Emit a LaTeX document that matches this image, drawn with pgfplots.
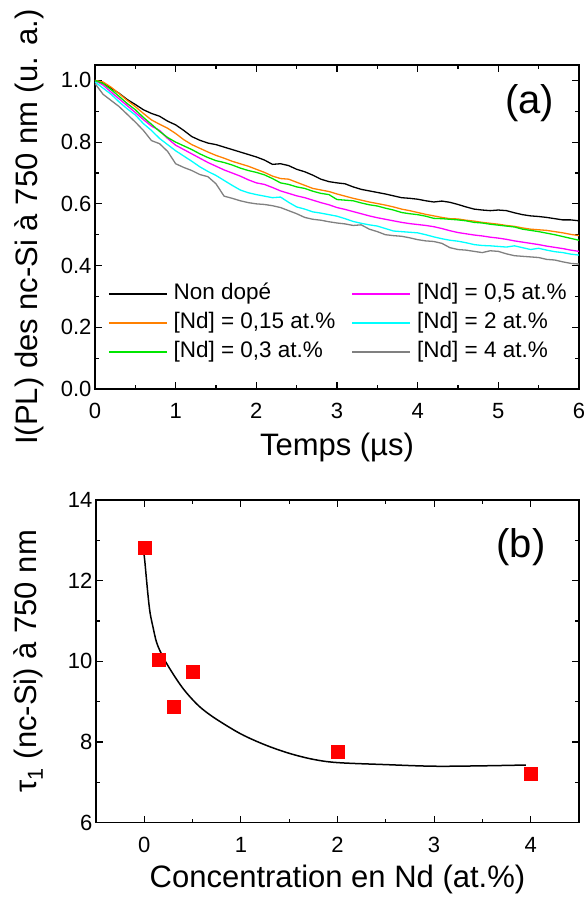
\documentclass[border=0pt]{standalone}
\usepackage{fontspec}
\setmainfont{Liberation Sans}
\usepackage{pgfplots}
\pgfplotsset{compat=1.18}
\definecolor{cBlack}{RGB}{0,0,0}
\definecolor{cOrange}{RGB}{255,128,0}
\definecolor{cGreen}{RGB}{0,230,0}
\definecolor{cMag}{RGB}{255,0,255}
\definecolor{cCyan}{RGB}{0,255,255}
\definecolor{cGray}{RGB}{128,128,128}
\pgfplotsset{
  myax/.style={
    scale only axis,
    axis line style={line width=1.3pt},
    every tick/.style={line width=1.1pt, black},
    major tick length=7pt, minor tick length=4pt,
    tick align=inside,
    tick label style={font=\fontsize{22}{26}\selectfont},
    xticklabel style={yshift=-11pt},
    /pgf/number format/assume math mode=true,
    label style={font=\fontsize{31}{35}\selectfont},
    minor x tick num=1, minor y tick num=1,
  }
}
\begin{document}
\begin{tikzpicture}[x=1pt,y=1pt]
\path[use as bounding box] (0,0) rectangle (584,898);
% ---------------- (a) ----------------
\begin{axis}[myax,
  at={(95pt,509pt)}, anchor=south west,
  width=484pt, height=324pt,
  xmin=0, xmax=6, ymin=0, ymax=1.05,
  xtick={0,1,2,3,4,5,6}, ytick={0,0.2,0.4,0.6,0.8,1.0},
  yticklabel style={/pgf/number format/.cd, fixed, fixed zerofill, precision=1},
  xlabel={Temps (µs)},
  ylabel={I(PL) des nc-Si à 750 nm (u. a.)},
  xlabel style={at={(axis description cs:0.5,-0.179)}, anchor=center},
  ylabel style={at={(axis description cs:-0.136,0.5)}, anchor=center},
  legend columns=2,
  legend cell align=left,
  legend style={at={(axis cs:0.12,0.355)}, anchor=north west, draw=none, fill=none,
    font=\fontsize{22.5}{26}\selectfont, nodes={inner sep=1pt, text height=17pt, text depth=5pt}, row sep=5pt,
    /tikz/every even column/.append style={column sep=15pt}},
  legend image code/.code={\draw[#1, line width=2pt] (0pt,0pt) -- (58pt,0pt); \path (63pt,0pt);},
]
\addplot[cBlack, line width=1.3pt] coordinates {
(0.0,1.000)(0.1,0.992)(0.2,0.975)(0.3,0.958)(0.4,0.938)(0.5,0.922)(0.6,0.905)(0.7,0.893)(0.8,0.884)(0.9,0.868)
(1.0,0.856)(1.1,0.838)(1.2,0.818)(1.3,0.806)(1.4,0.797)(1.5,0.792)(1.6,0.784)(1.7,0.776)(1.8,0.768)(1.9,0.760)
(2.0,0.752)(2.1,0.742)(2.2,0.728)(2.3,0.730)(2.4,0.724)(2.5,0.712)(2.6,0.704)(2.7,0.693)(2.8,0.680)(2.9,0.672)
(3.0,0.668)(3.1,0.665)(3.2,0.655)(3.3,0.647)(3.4,0.642)(3.5,0.637)(3.6,0.632)(3.7,0.626)(3.8,0.620)(3.9,0.618)
(4.0,0.615)(4.1,0.610)(4.2,0.606)(4.3,0.609)(4.4,0.605)(4.5,0.598)(4.6,0.590)(4.7,0.583)(4.8,0.580)(4.9,0.578)
(5.0,0.580)(5.1,0.578)(5.2,0.571)(5.3,0.565)(5.4,0.561)(5.5,0.559)(5.6,0.556)(5.7,0.552)(5.8,0.548)(5.9,0.548)(6.0,0.545)};
\addlegendentry{Non dopé}
\addplot[cMag, line width=1.3pt] coordinates {
(0.0,1.000)(0.1,0.985)(0.2,0.962)(0.3,0.940)(0.4,0.918)(0.5,0.896)(0.6,0.873)(0.7,0.852)(0.8,0.838)(0.9,0.812)
(1.0,0.790)(1.1,0.776)(1.2,0.762)(1.3,0.748)(1.4,0.734)(1.5,0.722)(1.6,0.710)(1.7,0.700)(1.8,0.690)(1.9,0.678)
(2.0,0.668)(2.1,0.663)(2.2,0.653)(2.3,0.642)(2.4,0.634)(2.5,0.626)(2.6,0.620)(2.7,0.612)(2.8,0.604)(2.9,0.597)
(3.0,0.588)(3.1,0.582)(3.2,0.575)(3.3,0.568)(3.4,0.561)(3.5,0.555)(3.6,0.550)(3.7,0.545)(3.8,0.540)(3.9,0.536)
(4.0,0.533)(4.1,0.530)(4.2,0.526)(4.3,0.520)(4.4,0.513)(4.5,0.507)(4.6,0.503)(4.7,0.499)(4.8,0.496)(4.9,0.492)
(5.0,0.489)(5.1,0.485)(5.2,0.480)(5.3,0.476)(5.4,0.472)(5.5,0.468)(5.6,0.463)(5.7,0.459)(5.8,0.455)(5.9,0.450)(6.0,0.446)};
\addlegendentry{[Nd] = 0,5 at.\%}
\addplot[cOrange, line width=1.3pt] coordinates {
(0.0,1.000)(0.1,0.995)(0.2,0.978)(0.3,0.957)(0.4,0.935)(0.5,0.915)(0.6,0.893)(0.7,0.872)(0.8,0.858)(0.9,0.845)
(1.0,0.828)(1.1,0.808)(1.2,0.792)(1.3,0.780)(1.4,0.768)(1.5,0.757)(1.6,0.748)(1.7,0.738)(1.8,0.730)(1.9,0.722)
(2.0,0.712)(2.1,0.702)(2.2,0.690)(2.3,0.682)(2.4,0.680)(2.5,0.670)(2.6,0.660)(2.7,0.650)(2.8,0.645)(2.9,0.640)
(3.0,0.632)(3.1,0.625)(3.2,0.618)(3.3,0.612)(3.4,0.606)(3.5,0.601)(3.6,0.596)(3.7,0.590)(3.8,0.583)(3.9,0.578)
(4.0,0.572)(4.1,0.566)(4.2,0.561)(4.3,0.556)(4.4,0.552)(4.5,0.551)(4.6,0.547)(4.7,0.544)(4.8,0.540)(4.9,0.537)
(5.0,0.534)(5.1,0.530)(5.2,0.527)(5.3,0.522)(5.4,0.518)(5.5,0.516)(5.6,0.514)(5.7,0.510)(5.8,0.506)(5.9,0.501)(6.0,0.497)};
\addlegendentry{[Nd] = 0,15 at.\%}
\addplot[cCyan, line width=1.3pt] coordinates {
(0.0,0.995)(0.1,0.975)(0.2,0.955)(0.3,0.930)(0.4,0.908)(0.5,0.888)(0.6,0.860)(0.7,0.838)(0.8,0.812)(0.9,0.792)
(1.0,0.772)(1.1,0.755)(1.2,0.738)(1.3,0.720)(1.4,0.705)(1.5,0.692)(1.6,0.676)(1.7,0.660)(1.8,0.645)(1.9,0.636)
(2.0,0.630)(2.1,0.625)(2.2,0.620)(2.3,0.622)(2.4,0.605)(2.5,0.590)(2.6,0.583)(2.7,0.574)(2.8,0.570)(2.9,0.565)
(3.0,0.560)(3.1,0.552)(3.2,0.543)(3.3,0.537)(3.4,0.532)(3.5,0.528)(3.6,0.520)(3.7,0.512)(3.8,0.510)(3.9,0.508)
(4.0,0.506)(4.1,0.500)(4.2,0.493)(4.3,0.487)(4.4,0.482)(4.5,0.479)(4.6,0.474)(4.7,0.468)(4.8,0.465)(4.9,0.464)
(5.0,0.462)(5.1,0.460)(5.2,0.464)(5.3,0.458)(5.4,0.452)(5.5,0.456)(5.6,0.450)(5.7,0.445)(5.8,0.442)(5.9,0.437)(6.0,0.434)};
\addlegendentry{[Nd] = 2 at.\%}
\addplot[cGreen, line width=1.3pt] coordinates {
(0.0,1.000)(0.1,0.990)(0.2,0.970)(0.3,0.948)(0.4,0.925)(0.5,0.905)(0.6,0.880)(0.7,0.858)(0.8,0.835)(0.9,0.815)
(1.0,0.800)(1.1,0.788)(1.2,0.776)(1.3,0.762)(1.4,0.750)(1.5,0.740)(1.6,0.734)(1.7,0.726)(1.8,0.716)(1.9,0.708)
(2.0,0.702)(2.1,0.694)(2.2,0.682)(2.3,0.668)(2.4,0.663)(2.5,0.655)(2.6,0.650)(2.7,0.641)(2.8,0.634)(2.9,0.630)
(3.0,0.614)(3.1,0.612)(3.2,0.610)(3.3,0.603)(3.4,0.597)(3.5,0.593)(3.6,0.586)(3.7,0.580)(3.8,0.572)(3.9,0.568)
(4.0,0.565)(4.1,0.560)(4.2,0.553)(4.3,0.552)(4.4,0.550)(4.5,0.548)(4.6,0.545)(4.7,0.540)(4.8,0.538)(4.9,0.534)
(5.0,0.531)(5.1,0.528)(5.2,0.525)(5.3,0.518)(5.4,0.514)(5.5,0.510)(5.6,0.505)(5.7,0.500)(5.8,0.494)(5.9,0.488)(6.0,0.482)};
\addlegendentry{[Nd] = 0,3 at.\%}
\addplot[cGray, line width=1.3pt] coordinates {
(0.0,0.990)(0.1,0.955)(0.2,0.935)(0.3,0.915)(0.4,0.890)(0.5,0.865)(0.6,0.838)(0.7,0.805)(0.8,0.795)(0.9,0.770)
(1.0,0.730)(1.1,0.718)(1.2,0.708)(1.3,0.695)(1.4,0.688)(1.5,0.665)(1.6,0.625)(1.7,0.618)(1.8,0.610)(1.9,0.604)
(2.0,0.600)(2.1,0.598)(2.2,0.594)(2.3,0.588)(2.4,0.578)(2.5,0.568)(2.6,0.556)(2.7,0.550)(2.8,0.547)(2.9,0.542)
(3.0,0.538)(3.1,0.535)(3.2,0.530)(3.3,0.532)(3.4,0.518)(3.5,0.510)(3.6,0.500)(3.7,0.497)(3.8,0.495)(3.9,0.490)
(4.0,0.484)(4.1,0.480)(4.2,0.478)(4.3,0.472)(4.4,0.458)(4.5,0.452)(4.6,0.450)(4.7,0.446)(4.8,0.442)(4.9,0.448)
(5.0,0.446)(5.1,0.438)(5.2,0.432)(5.3,0.430)(5.4,0.428)(5.5,0.426)(5.6,0.420)(5.7,0.418)(5.8,0.412)(5.9,0.407)(6.0,0.405)};
\addlegendentry{[Nd] = 4 at.\%}
\node[font=\fontsize{40}{44}\selectfont] at (axis cs:5.39,0.925) {(a)};
\end{axis}
% ---------------- (b) ----------------
\begin{axis}[myax,
  at={(96pt,75.3pt)}, anchor=south west,
  width=483pt, height=322.7pt,
  xmin=-0.5, xmax=4.5, ymin=6, ymax=14,
  xtick={0,1,2,3,4}, ytick={6,8,10,12,14},
  xlabel={Concentration en Nd (at.\%)},
  ylabel={τ\textsubscript{1} (nc-Si) à 750 nm},
  xlabel style={at={(axis description cs:0.5,-0.177)}, anchor=center},
  ylabel style={at={(axis description cs:-0.14,0.5)}, anchor=center},
]
\addplot[black, line width=1.5pt, smooth, tension=0.55] coordinates {
(-0.02,12.86)(0.0,12.6)(0.02,12.1)(0.04,11.6)(0.06,11.2)(0.09,10.85)(0.13,10.45)(0.2,10.08)(0.3,9.68)(0.4,9.33)
(0.5,9.05)(0.6,8.82)(0.75,8.56)(1.0,8.20)(1.25,7.93)(1.5,7.72)(1.75,7.57)(2.0,7.49)(2.5,7.44)(3.0,7.40)(3.5,7.41)(3.95,7.43)};
\addplot[only marks, mark=square*, mark size=6.5pt, color=red, fill=red] coordinates {
(0,12.82)(0.15,10.05)(0.3,8.87)(0.5,9.75)(2,7.76)(4,7.21)};
\node[font=\fontsize{40}{44}\selectfont] at (axis cs:3.9,12.83) {(b)};
\end{axis}
\end{tikzpicture}
\end{document}
